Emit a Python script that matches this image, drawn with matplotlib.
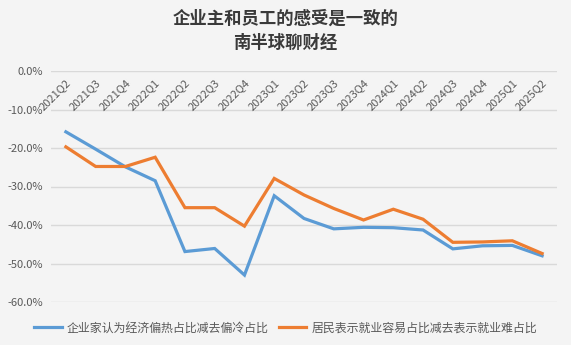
import numpy as np
import matplotlib
matplotlib.use("Agg")
import matplotlib.pyplot as plt
from matplotlib.transforms import offset_copy

plt.rcParams['font.family'] = ['Noto Sans CJK SC', 'DejaVu Sans']

quarters = ["2021Q2", "2021Q3", "2021Q4", "2022Q1", "2022Q2", "2022Q3", "2022Q4",
            "2023Q1", "2023Q2", "2023Q3", "2023Q4", "2024Q1", "2024Q2", "2024Q3",
            "2024Q4", "2025Q1", "2025Q2"]
# percentages
business = [-15.8, -20.3, -24.9, -28.5, -46.9, -46.1, -53.0, -32.4, -38.3, -41.0,
            -40.6, -40.7, -41.3, -46.2, -45.4, -45.3, -48.0]
residents = [-19.7, -24.8, -24.8, -22.4, -35.5, -35.5, -40.3, -27.9, -32.2, -35.7,
             -38.7, -35.9, -38.5, -44.5, -44.4, -44.1, -47.4]
yticks = [0, -10, -20, -30, -40, -50, -60]

bg = "#f4f4f4"
fig = plt.figure(figsize=(5.71, 3.45), dpi=100, facecolor=bg)
ax = fig.add_axes([51 / 571, 43 / 345, 506 / 571, 231 / 345], facecolor=bg)

x = np.arange(len(quarters))
ax.plot(x, business, color="#5b9bd5", lw=2.3, solid_joinstyle="miter",
        label="企业家认为经济偏热占比减去偏冷占比")
ax.plot(x, residents, color="#ed7d31", lw=2.3, solid_joinstyle="miter",
        label="居民表示就业容易占比减去表示就业难占比")

ax.set_xlim(-0.5, len(quarters) - 0.5)
ax.set_ylim(-60, 0)
ax.set_yticks(yticks)
ax.set_yticklabels([f"{v:.1f}%" for v in yticks], fontsize=8, color="#595959")
ax.tick_params(axis="y", length=0, pad=6)
ax.set_xticks([])
ax.grid(axis="y", color="#d9d9d9", lw=1)
ax.set_axisbelow(True)
for s in ax.spines.values():
    s.set_visible(False)

# category labels hang just under the zero line, slanted up to the right
trans = offset_copy(ax.transData, fig=fig, x=3, y=-10, units="dots")
for i, q in enumerate(quarters):
    ax.text(i, 0, q, transform=trans, rotation=45, rotation_mode="anchor",
            ha="right", va="center", fontsize=8, color="#595959")

fig.text(571 / 2, 345 - 19, "企业主和员工的感受是一致的", transform=None,
         ha="center", va="center", fontsize=12.5, fontweight="bold", color="#3a3a3a")
fig.text(571 / 2, 345 - 43, "南半球聊财经", transform=None,
         ha="center", va="center", fontsize=12.5, fontweight="bold", color="#3a3a3a")

fig.legend(loc="center", bbox_to_anchor=(0.5, (345 - 328) / 345), ncol=2,
           frameon=False, fontsize=8.6, labelcolor="#595959", handlelength=2.3,
           columnspacing=0.9, handletextpad=0.4)

fig.savefig("out.png", dpi=100, facecolor=bg)
